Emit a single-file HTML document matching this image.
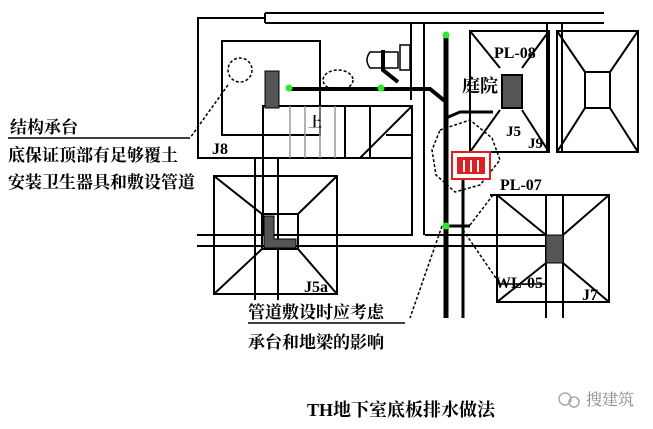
<!DOCTYPE html>
<html><head><meta charset="utf-8"><style>
html,body{margin:0;padding:0;background:#fff;}
svg{display:block;}
text{font-family:"Liberation Serif","Noto Serif CJK SC","WenQuanYi Zen Hei",serif;font-weight:bold;fill:#000;}
</style></head><body>
<svg width="653" height="429" viewBox="0 0 653 429" xmlns="http://www.w3.org/2000/svg">
<g stroke="#000" stroke-width="2" fill="none">
<line x1="265" y1="13" x2="604" y2="13"/>
<line x1="265" y1="23" x2="604" y2="23"/>
<line x1="265" y1="13" x2="265" y2="23"/>
<polyline points="265,18 198,18 198,158 410,158"/>
<line x1="411" y1="23" x2="411" y2="100"/>
<rect x="222" y="41" width="98" height="94"/>
<rect x="263" y="106" width="149" height="129"/>
<line x1="370" y1="106" x2="370" y2="158"/>
<line x1="345" y1="106" x2="345" y2="158"/>
<line x1="255" y1="158" x2="255" y2="300"/>
<line x1="278" y1="158" x2="278" y2="300"/>
<line x1="412" y1="106" x2="360" y2="158"/>
<line x1="386" y1="135" x2="412" y2="135"/>
<line x1="386" y1="158" x2="412" y2="158"/>
<line x1="197" y1="235" x2="412" y2="235"/>
<line x1="197" y1="246" x2="545" y2="246"/>
<line x1="425" y1="235" x2="545" y2="235"/>
<rect x="214" y="176" width="123" height="118"/>
<line x1="214" y1="176" x2="262" y2="214"/>
<line x1="337" y1="176" x2="298" y2="214"/>
<line x1="214" y1="294" x2="262" y2="249"/>
<line x1="337" y1="294" x2="298" y2="249"/>
<rect x="262" y="214" width="36" height="35"/>
<line x1="424" y1="23" x2="424" y2="235"/>
<line x1="547" y1="23" x2="547" y2="152"/>
<line x1="424" y1="23" x2="547" y2="23"/>
<rect x="470" y="31" width="79" height="121"/>
<line x1="470" y1="31" x2="500" y2="68"/>
<line x1="549" y1="31" x2="522" y2="68"/>
<line x1="470" y1="152" x2="500" y2="110"/>
<line x1="549" y1="152" x2="522" y2="110"/>
<rect x="557" y="31" width="81" height="121"/>
<line x1="557" y1="31" x2="585" y2="72"/>
<line x1="638" y1="31" x2="610" y2="72"/>
<line x1="557" y1="152" x2="585" y2="108"/>
<line x1="638" y1="152" x2="610" y2="108"/>
<rect x="585" y="72" width="25" height="36"/>
<line x1="562" y1="23" x2="562" y2="152"/>
<rect x="497" y="195" width="112" height="107"/>
<line x1="497" y1="195" x2="546" y2="235"/>
<line x1="609" y1="195" x2="563" y2="235"/>
<line x1="497" y1="302" x2="546" y2="263"/>
<line x1="609" y1="302" x2="563" y2="263"/>
<line x1="546" y1="195" x2="546" y2="318"/>
<line x1="563" y1="195" x2="563" y2="318"/>
<line x1="490" y1="195" x2="545" y2="195"/>
<line x1="446" y1="35" x2="446" y2="318" stroke-width="5"/>
<line x1="463" y1="178" x2="463" y2="318" stroke-width="3"/>
<polyline points="289,89 430,89 446,102" stroke-width="4"/>
<polyline points="446,118 460,112 493,112" stroke-width="3"/>
<polyline points="383,50 383,70 398,82" stroke-width="4"/>
<line x1="446" y1="226" x2="470" y2="226" stroke-width="3"/>
</g>
<g stroke="#999" stroke-width="1.5">
<line x1="290" y1="106" x2="290" y2="158"/>
<line x1="305" y1="106" x2="305" y2="158"/>
<line x1="320" y1="106" x2="320" y2="158"/>
<line x1="335" y1="106" x2="335" y2="158"/>
</g>
<g stroke="#000" stroke-width="1.5" fill="none" stroke-dasharray="3,2">
<circle cx="240" cy="70" r="12"/>
<polyline points="228,85 190,138"/>
<polygon points="440,130 470,120 492,138 500,160 480,185 455,192 436,175 432,150"/>
<line x1="442" y1="226" x2="410" y2="318"/>
<line x1="463" y1="230" x2="500" y2="284"/>
<line x1="493" y1="195" x2="470" y2="225"/>
<ellipse cx="338" cy="80" rx="15" ry="10"/>
</g>
<g stroke="#000" stroke-width="1.5" fill="none">
<line x1="8" y1="138" x2="190" y2="138"/>
<line x1="248" y1="323" x2="405" y2="323"/>
<line x1="500" y1="284" x2="545" y2="284"/>
<rect x="400" y="45" width="10" height="25"/>
<path d="M370 52 h28 v16 h-28 q-6 -8 0 -16z"/>
</g>
<rect x="265" y="71" width="14" height="37" fill="#555" stroke="#000"/>
<path d="M264 216 h10 v23 h22 v9 h-32z" fill="#555" stroke="#000"/>
<rect x="502" y="75" width="20" height="33" fill="#555" stroke="#000" stroke-width="2"/>
<rect x="546" y="235" width="17" height="28" fill="#555" stroke="#000"/>
<rect x="452" y="152" width="38" height="27" fill="#fff" stroke="#e02020" stroke-width="2"/>
<rect x="457" y="157" width="28" height="17" fill="#e02020"/>
<g stroke="#fff" stroke-width="2"><line x1="464" y1="160" x2="464" y2="172"/><line x1="471" y1="160" x2="471" y2="172"/><line x1="478" y1="160" x2="478" y2="172"/></g>
<g fill="#2ee82e"><circle cx="289" cy="88" r="3.5"/><circle cx="381" cy="88" r="3.5"/><circle cx="446" cy="35" r="3.5"/><circle cx="446" cy="226" r="3.5"/></g>
<text x="10" y="133" font-size="17">结构承台</text>
<text x="8" y="161" font-size="17">底保证顶部有足够覆土</text>
<text x="8" y="188" font-size="17">安装卫生器具和敷设管道</text>
<text x="212" y="154" font-size="16">J8</text>
<text x="308" y="127" font-size="14">上</text>
<text x="304" y="292" font-size="16">J5a</text>
<text x="494" y="58" font-size="16">PL-08</text>
<text x="462" y="92" font-size="18">庭院</text>
<text x="506" y="136" font-size="15">J5</text>
<text x="528" y="148" font-size="15">J9</text>
<text x="500" y="190" font-size="16">PL-07</text>
<text x="495" y="288" font-size="16">WL-05</text>
<text x="582" y="300" font-size="16">J7</text>
<text x="248" y="318" font-size="17">管道敷设时应考虑</text>
<text x="248" y="348" font-size="17">承台和地梁的影响</text>
<text x="307" y="416" font-size="18">TH地下室底板排水做法</text>
<text x="586" y="405" font-size="16" style="font-weight:normal;fill:#888">搜建筑</text>
<g stroke="#aaa" fill="none" stroke-width="1.5"><circle cx="565" cy="399" r="6"/><circle cx="574" cy="402" r="5"/></g>
</svg>
</body></html>
